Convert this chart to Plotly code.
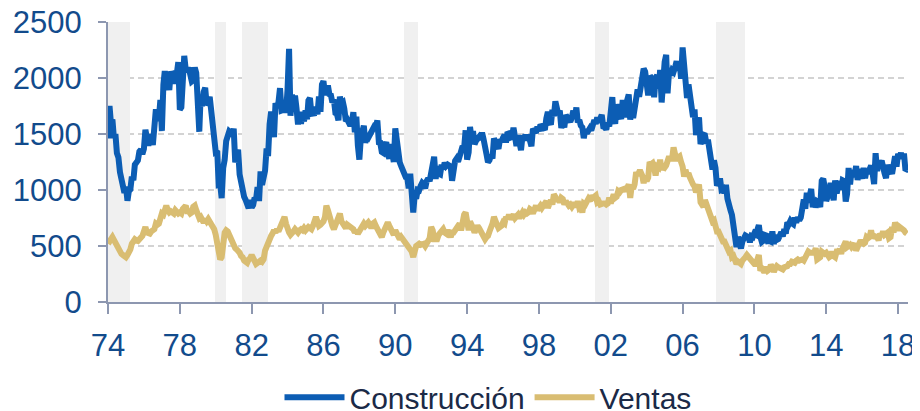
import pandas as pd
import plotly.graph_objects as go

# Monthly data, Jan 1974 - Jul 2018 (thousands, annualized)
start_month = "1974-01-01"

construccion = [
    1460, 1750, 1600, 1630, 1465, 1500, 1330, 1290, 1160, 1100, 1080, 975,   # 1974
    1030, 904, 990, 1005, 1120, 1087, 1226, 1260, 1264, 1344, 1360, 1321,    # 1975
    1367, 1538, 1421, 1395, 1459, 1495, 1401, 1550, 1720, 1629, 1641, 1804,  # 1976
    1527, 1943, 2063, 1892, 1971, 1893, 2058, 2020, 1949, 2042, 2042, 2142,  # 1977
    1718, 1738, 2032, 2197, 2075, 2070, 2092, 1996, 1970, 1981, 2094, 2044,  # 1978
    1630, 1520, 1847, 1748, 1876, 1913, 1760, 1778, 1832, 1681, 1524, 1498,  # 1979
    1341, 1350, 1047, 1051, 927, 1196, 1269, 1436, 1471, 1523, 1510, 1482,   # 1980
    1547, 1246, 1306, 1360, 1140, 1045, 1041, 940, 911, 873, 837, 910,       # 1981
    843, 866, 931, 917, 1025, 902, 1166, 1046, 1144, 1173, 1372, 1303,       # 1982
    1586, 1699, 1606, 1472, 1776, 1733, 1785, 1910, 1710, 1715, 1785, 1688,  # 1983
    1897, 2260, 1663, 1851, 1774, 1843, 1732, 1586, 1698, 1590, 1689, 1612,  # 1984
    1711, 1632, 1800, 1821, 1680, 1676, 1684, 1743, 1676, 1834, 1698, 1942,  # 1985
    1972, 1848, 1876, 1933, 1854, 1847, 1782, 1807, 1687, 1681, 1623, 1833,  # 1986
    1774, 1784, 1726, 1614, 1628, 1594, 1575, 1605, 1695, 1515, 1656, 1400,  # 1987
    1271, 1473, 1532, 1573, 1421, 1478, 1467, 1493, 1492, 1522, 1569, 1563,  # 1988
    1621, 1425, 1422, 1339, 1331, 1397, 1427, 1332, 1279, 1410, 1351, 1251,  # 1989
    1551, 1437, 1289, 1248, 1212, 1177, 1171, 1115, 1110, 1014, 1145, 969,   # 1990
    798, 965, 921, 1001, 996, 1036, 1063, 1049, 1015, 1079, 1103, 1079,      # 1991
    1176, 1250, 1297, 1099, 1214, 1145, 1139, 1226, 1186, 1244, 1214, 1227,  # 1992
    1210, 1210, 1083, 1258, 1260, 1280, 1254, 1300, 1343, 1392, 1376, 1533,  # 1993
    1272, 1337, 1564, 1465, 1526, 1409, 1439, 1450, 1474, 1450, 1511, 1455,  # 1994
    1407, 1316, 1249, 1267, 1314, 1281, 1461, 1416, 1369, 1369, 1452, 1431,  # 1995
    1467, 1491, 1424, 1516, 1504, 1467, 1472, 1557, 1475, 1392, 1489, 1370,  # 1996
    1355, 1486, 1457, 1492, 1442, 1494, 1437, 1390, 1546, 1520, 1510, 1566,  # 1997
    1525, 1584, 1567, 1540, 1536, 1641, 1698, 1614, 1582, 1715, 1660, 1792,  # 1998
    1748, 1670, 1710, 1553, 1611, 1559, 1669, 1648, 1635, 1608, 1648, 1708,  # 1999
    1636, 1737, 1604, 1626, 1575, 1559, 1463, 1541, 1507, 1549, 1551, 1532,  # 2000
    1600, 1625, 1590, 1649, 1605, 1636, 1670, 1567, 1562, 1540, 1602, 1568,  # 2001
    1698, 1829, 1642, 1592, 1764, 1717, 1655, 1633, 1804, 1648, 1753, 1788,  # 2002
    1853, 1629, 1726, 1643, 1751, 1867, 1897, 1833, 1939, 1967, 2083, 2057,  # 2003
    1911, 1846, 1998, 2003, 1981, 1828, 2002, 2024, 1905, 2072, 1782, 2042,  # 2004
    2144, 2207, 1864, 2061, 2025, 2068, 2054, 2095, 2151, 2065, 2147, 1994,  # 2005
    2273, 2119, 1969, 1821, 1942, 1802, 1737, 1650, 1720, 1491, 1570, 1649,  # 2006
    1409, 1480, 1495, 1490, 1415, 1448, 1354, 1330, 1183, 1264, 1197, 1037,  # 2007
    1084, 1103, 1005, 1013, 973, 1046, 923, 844, 820, 777, 652, 560,         # 2008
    490, 582, 505, 478, 540, 585, 594, 586, 585, 534, 588, 581,              # 2009
    614, 604, 636, 687, 583, 536, 546, 599, 594, 543, 545, 539,              # 2010
    630, 518, 600, 554, 561, 608, 623, 585, 650, 610, 711, 694,              # 2011
    723, 704, 695, 753, 708, 757, 728, 754, 847, 915, 833, 976,              # 2012
    888, 962, 1010, 847, 925, 844, 898, 889, 847, 1082, 1101, 1025,          # 2013
    902, 944, 970, 1064, 991, 909, 1086, 970, 1033, 1080, 1002, 1087,        # 2014
    1080, 898, 965, 1196, 1050, 1175, 1150, 1140, 1214, 1089, 1186, 1138,    # 2015
    1101, 1197, 1105, 1183, 1146, 1185, 1218, 1149, 1053, 1329, 1168, 1263,  # 2016
    1226, 1262, 1179, 1150, 1106, 1224, 1179, 1176, 1144, 1236, 1302, 1208,  # 2017
    1322, 1295, 1330, 1279, 1326, 1174, 1184,                                # 2018
]

ventas = [
    520, 540, 570, 580, 555, 530, 500, 470, 440, 430, 420, 410,   # 1974
    400, 420, 440, 470, 520, 540, 560, 550, 545, 560, 570, 590,   # 1975
    630, 670, 620, 620, 610, 630, 640, 650, 700, 690, 700, 740,   # 1976
    790, 780, 830, 860, 820, 800, 810, 800, 790, 820, 810, 790,   # 1977
    800, 790, 830, 850, 860, 810, 810, 790, 800, 850, 860, 820,   # 1978
    790, 750, 760, 730, 710, 740, 720, 740, 720, 690, 660, 650,   # 1979
    600, 520, 420, 380, 400, 560, 620, 640, 630, 600, 560, 530,   # 1980
    500, 480, 470, 460, 440, 410, 400, 370, 360, 350, 380, 390,   # 1981
    420, 380, 360, 340, 350, 360, 370, 360, 380, 460, 500, 540,   # 1982
    570, 590, 610, 640, 620, 650, 630, 660, 680, 720, 760, 700,   # 1983
    640, 620, 600, 610, 630, 650, 640, 620, 640, 650, 640, 660,   # 1984
    640, 650, 670, 660, 650, 680, 740, 760, 720, 680, 690, 700,   # 1985
    720, 760, 860, 820, 760, 720, 680, 650, 690, 740, 780, 790,   # 1986
    720, 700, 690, 660, 690, 680, 670, 660, 650, 620, 640, 610,   # 1987
    630, 660, 690, 700, 680, 690, 710, 690, 660, 700, 710, 680,   # 1988
    650, 620, 600, 580, 620, 650, 690, 710, 680, 650, 630, 600,   # 1989
    640, 600, 580, 560, 580, 560, 540, 530, 520, 490, 470, 450,   # 1990
    401, 480, 500, 510, 520, 510, 510, 520, 500, 520, 560, 570,   # 1991
    670, 640, 560, 560, 560, 600, 620, 630, 650, 620, 610, 640,   # 1992
    600, 580, 620, 620, 640, 660, 680, 700, 640, 730, 780, 800,   # 1993
    700, 640, 720, 700, 660, 620, 660, 680, 660, 640, 620, 580,   # 1994
    560, 580, 590, 630, 660, 700, 760, 700, 690, 660, 670, 680,   # 1995
    710, 700, 760, 740, 780, 740, 760, 780, 750, 760, 780, 750,   # 1996
    770, 800, 780, 800, 790, 800, 830, 820, 790, 830, 860, 820,   # 1997
    850, 860, 840, 860, 890, 900, 840, 870, 910, 870, 960, 940,   # 1998
    900, 920, 890, 930, 920, 870, 900, 880, 860, 870, 850, 870,   # 1999
    870, 850, 900, 840, 850, 800, 880, 870, 890, 920, 900, 950,   # 2000
    930, 950, 950, 890, 900, 870, 880, 880, 880, 870, 880, 930,   # 2001
    880, 950, 960, 930, 940, 990, 980, 1000, 1010, 1010, 990, 1050,        # 2002
    1050, 930, 1030, 1010, 1050, 1160, 1130, 1160, 1160, 1130, 1060, 1130,  # 2003
    1080, 1110, 1250, 1230, 1240, 1200, 1130, 1210, 1200, 1270, 1180, 1210, # 2004
    1200, 1220, 1290, 1300, 1280, 1280, 1380, 1270, 1260, 1290, 1300, 1250, # 2005
    1210, 1120, 1180, 1130, 1150, 1110, 1070, 1050, 1030, 980, 1010, 1050,  # 2006
    890, 860, 850, 910, 870, 840, 810, 750, 720, 730, 660, 630,   # 2007
    630, 590, 560, 540, 540, 500, 500, 450, 460, 400, 410, 360,   # 2008
    340, 360, 350, 340, 370, 400, 400, 420, 400, 390, 380, 360,   # 2009
    340, 340, 370, 420, 280, 300, 280, 280, 310, 280, 290, 330,   # 2010
    310, 270, 300, 320, 310, 300, 300, 290, 310, 310, 320, 340,   # 2011
    340, 360, 360, 350, 370, 380, 370, 380, 380, 370, 400, 400,   # 2012
    450, 440, 440, 450, 440, 480, 380, 390, 400, 450, 440, 430,   # 2013
    440, 410, 400, 410, 450, 410, 400, 450, 450, 470, 430, 480,   # 2014
    520, 540, 490, 500, 510, 490, 510, 520, 460, 490, 510, 550,   # 2015
    530, 520, 530, 580, 570, 580, 640, 570, 590, 580, 580, 550,   # 2016
    610, 590, 630, 600, 610, 620, 570, 580, 670, 620, 710, 640,   # 2017
    640, 670, 660, 660, 640, 620, 610,                            # 2018
]

# Recession periods (first month, last month)
recesiones = [
    ("1974-01", "1975-03"),
    ("1980-01", "1980-07"),
    ("1981-07", "1982-11"),
    ("1990-07", "1991-03"),
    ("2001-03", "2001-11"),
    ("2007-12", "2009-06"),
]
recesion_altura = 2500

y_ticks = [0, 500, 1000, 1500, 2000, 2500]
x_tick_years = list(range(1974, 2019, 4))
x_tick_labels = [f"{y % 100:02d}" for y in x_tick_years]

fechas = pd.date_range(start_month, periods=len(construccion), freq="MS")
rec_meses = []
for a, b in recesiones:
    rec_meses.extend(pd.date_range(a + "-01", b + "-01", freq="MS"))

blue = "#0c5db4"
gold = "#d9bd72"
axis_col = "#8d97b0"
tick_col = "#124b8c"
font_fam = "Liberation Sans, Arial, sans-serif"

fig = go.Figure()
fig.add_trace(go.Bar(
    x=[d + pd.Timedelta(days=15) for d in rec_meses],
    y=[recesion_altura] * len(rec_meses),
    width=[31 * 86400000] * len(rec_meses),
    marker=dict(color="#f0f0f0", line=dict(width=0)),
    showlegend=False, hoverinfo="skip",
))
fig.add_trace(go.Scatter(
    x=fechas, y=construccion, mode="lines", name="Construcción",
    line=dict(color=blue, width=6),
))
fig.add_trace(go.Scatter(
    x=fechas, y=ventas, mode="lines", name="Ventas",
    line=dict(color=gold, width=6),
))

# The page body has an 8px default margin, so the figure is sized to fit the
# 920x411 window with that offset.
fig.update_layout(
    width=912, height=403,
    margin=dict(l=100, r=12, t=14, b=109, autoexpand=False),
    paper_bgcolor="white", plot_bgcolor="white",
    font=dict(family=font_fam, size=31, color=tick_col),
    showlegend=True,
    legend=dict(
        orientation="h", x=0.475, xanchor="center", y=-0.34, yanchor="middle",
        font=dict(size=30, color="#1b2a47", family=font_fam),
        itemwidth=60, tracegroupgap=0,
    ),
    xaxis=dict(
        type="date", automargin=False,
        range=["1974-01-01", "2018-07-22"],
        tickvals=[f"{y}-01-01" for y in x_tick_years],
        ticktext=x_tick_labels,
        ticks="outside", ticklen=10, tickwidth=2, tickcolor=axis_col,
        showline=True, linecolor=axis_col, linewidth=2,
        showgrid=False, zeroline=False,
        tickfont=dict(size=31, color=tick_col),
        ticklabelstandoff=5, ticklabeloverflow="allow",
    ),
    yaxis=dict(
        range=[0, 2500], tickvals=y_ticks, automargin=False,
        ticks="outside", ticklen=8, tickwidth=2, tickcolor=axis_col,
        showline=True, linecolor=axis_col, linewidth=2,
        showgrid=True, gridcolor="#d3d3d3", gridwidth=2, griddash="6px,4px",
        zeroline=False,
        tickfont=dict(size=31, color=tick_col),
        ticklabelstandoff=10, ticklabeloverflow="allow",
    ),
    yaxis2=dict(
        range=[0, 2500], tickvals=y_ticks, overlaying="y", side="right",
        automargin=False,
        ticks="inside", ticklen=8, tickwidth=2, tickcolor=axis_col,
        showline=True, linecolor=axis_col, linewidth=2,
        showgrid=False, zeroline=False, showticklabels=False,
    ),
    bargap=0,
)

fig.write_html("out.html")
